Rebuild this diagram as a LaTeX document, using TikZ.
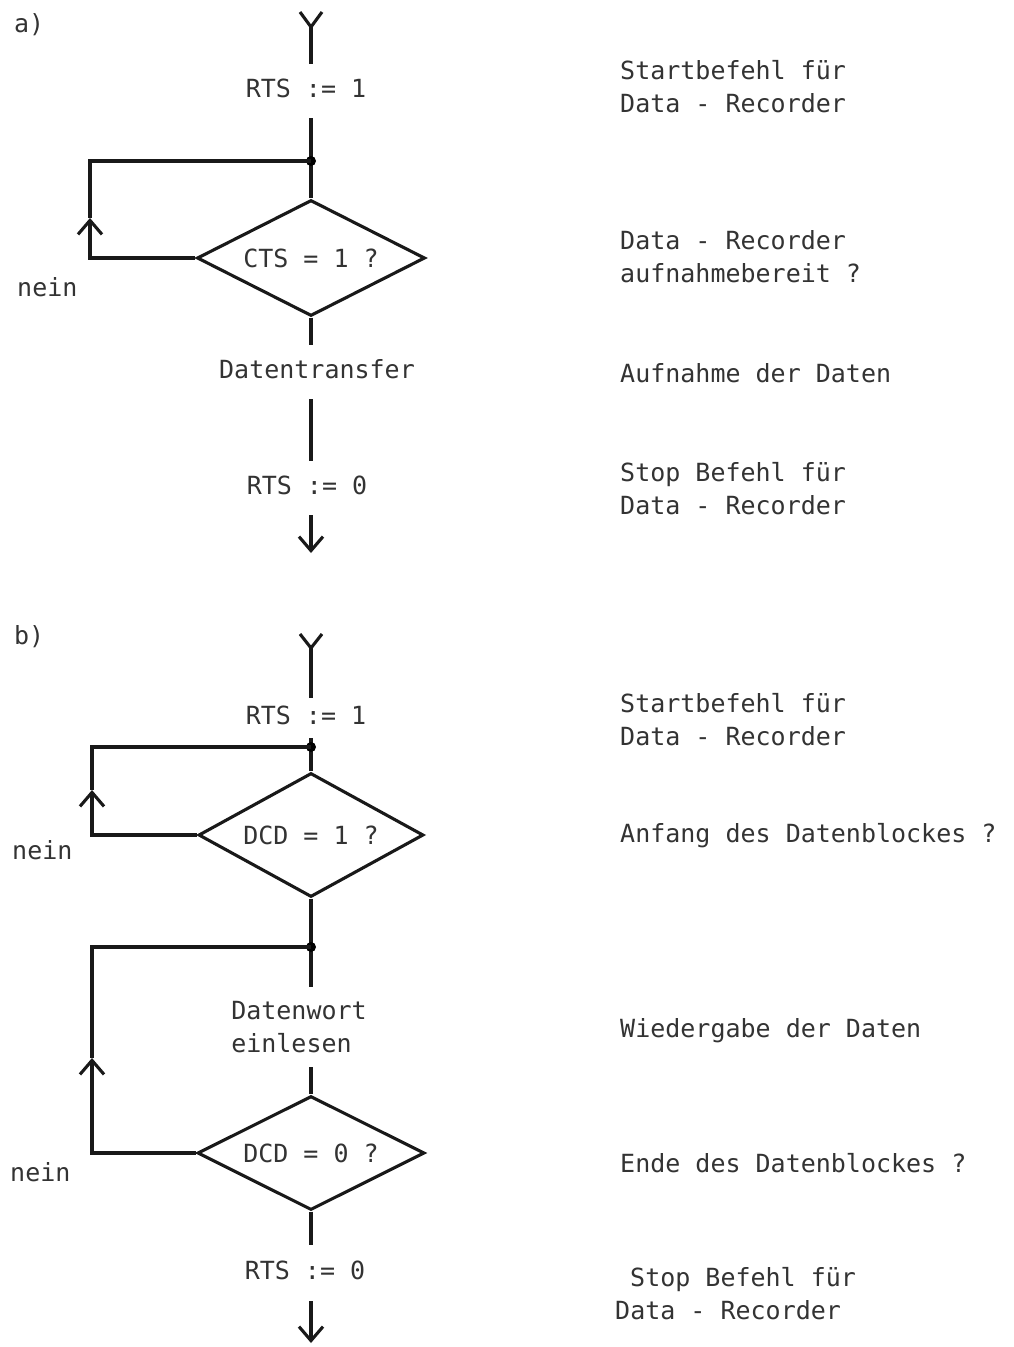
\documentclass[tikz,border=0pt]{standalone}
\usepackage{fontspec}
\setmonofont{DejaVu Sans Mono}
\usetikzlibrary{shapes.geometric,arrows.meta}
\begin{document}
\begin{tikzpicture}[x=1pt,y=-1pt,
  every node/.style={font=\ttfamily\fontsize{25}{33}\selectfont, text=black!80},
  flow/.style={line width=3.1pt, draw=black!90},
  tip/.style={-{Straight Barb[length=14pt,width=24pt]}},
  lbl/.style={inner sep=0pt, minimum height=54pt, text height=18pt, text depth=5pt},
  note/.style={inner sep=0pt, anchor=west, align=left},
  dec/.style={diamond, draw=black!90, line width=3.1pt, inner sep=0pt, aspect=2},
  dot/.style={circle, fill=black, inner sep=0pt, minimum size=10pt}
]
\fill[white] (0,0) rectangle (1013,1347);
\useasboundingbox (0,0) rectangle (1013,1347);

% ---------------- part a ----------------
\node[note] (la) at (14,25) {a)};
\coordinate (yaL) at (300,12);
\coordinate (yaR) at (322,12);
\coordinate (ya) at (311,27);
\draw[flow] (yaL) -- (ya) -- (yaR);
\node[lbl] (rts1a) at (306,91) {RTS := 1};
\draw[flow] (ya) -- (ya |- rts1a.north);
\coordinate (ja) at (311,161);
\node[dec, minimum width=228pt, minimum height=116pt] (da) at (311,258) {CTS = 1 ?};
\draw[flow] (rts1a.south -| ja) -- (da.north);
\node[dot] (jda) at (ja) {};
\coordinate (arra) at (90,218);
\draw[flow,tip] (da.west) -| (arra);
\draw[flow] (arra) |- (ja);
\node[note] (neina) at (17,287) {nein};
\node[lbl] (dt) at (317,372) {Datentransfer};
\draw[flow] (da.south) -- (da.south |- dt.north);
\node[lbl] (rts0a) at (307,488) {RTS := 0};
\draw[flow] (dt.south -| ja) -- (rts0a.north -| ja);
\coordinate (enda) at (311,553);
\draw[flow,tip] (rts0a.south -| ja) -- (enda);

\node[note] (ra1) at (620,87) {Startbefehl für\\Data - Recorder};
\node[note] (ra2) at (620,257) {Data - Recorder\\aufnahmebereit ?};
\node[note] (ra3) at (620,373) {Aufnahme der Daten};
\node[note] (ra4) at (620,489) {Stop Befehl für\\Data - Recorder};

% ---------------- part b ----------------
\node[note] (lb) at (14,637) {b)};
\coordinate (ybL) at (300,634);
\coordinate (ybR) at (322,634);
\coordinate (yb) at (311,648);
\draw[flow] (ybL) -- (yb) -- (ybR);
\node[lbl, minimum height=40pt] (rts1b) at (306,718) {RTS := 1};
\draw[flow] (yb) -- (yb |- rts1b.north);
\coordinate (jb1) at (311,747);
\node[dec, minimum width=225pt, minimum height=124pt] (db1) at (311,835) {DCD = 1 ?};
\draw[flow] (rts1b.south -| jb1) -- (db1.north);
\node[dot] (jdb1) at (jb1) {};
\coordinate (arrb1) at (92,790);
\draw[flow,tip] (db1.west) -| (arrb1);
\draw[flow] (arrb1) |- (jb1);
\node[note] (neinb1) at (12,850) {nein};

\coordinate (jb2) at (311,947);
\node[inner sep=0pt, inner ysep=14pt, align=left] (dw) at (299,1027) {Datenwort\\einlesen};
\draw[flow] (db1.south) -- (jb2 |- dw.north);
\node[dot] (jdb2) at (jb2) {};
\node[dec, minimum width=227pt, minimum height=114pt] (db2) at (311,1153) {DCD = 0 ?};
\draw[flow] (dw.south -| jb2) -- (db2.north);
\coordinate (arrb2) at (92,1058);
\draw[flow,tip] (db2.west) -| (arrb2);
\draw[flow] (arrb2) |- (jb2);
\node[note] (neinb2) at (10,1172) {nein};
\node[lbl, minimum height=56pt] (rts0b) at (305,1273) {RTS := 0};
\draw[flow] (db2.south) -- (db2.south |- rts0b.north);
\coordinate (endb) at (311,1343);
\draw[flow,tip] (rts0b.south -| jb2) -- (endb);

\node[note] (rb1) at (620,720) {Startbefehl für\\Data - Recorder};
\node[note] (rb2) at (620,836) {Anfang des Datenblockes ?};
\node[note] (rb3) at (620,1031) {Wiedergabe der Daten};
\node[note] (rb4) at (620,1163) {Ende des Datenblockes ?};
\node[note] (rb5) at (630,1280) {Stop Befehl für};
\node[note] (rb6) at (615,1310) {Data - Recorder};
\end{tikzpicture}
\end{document}
